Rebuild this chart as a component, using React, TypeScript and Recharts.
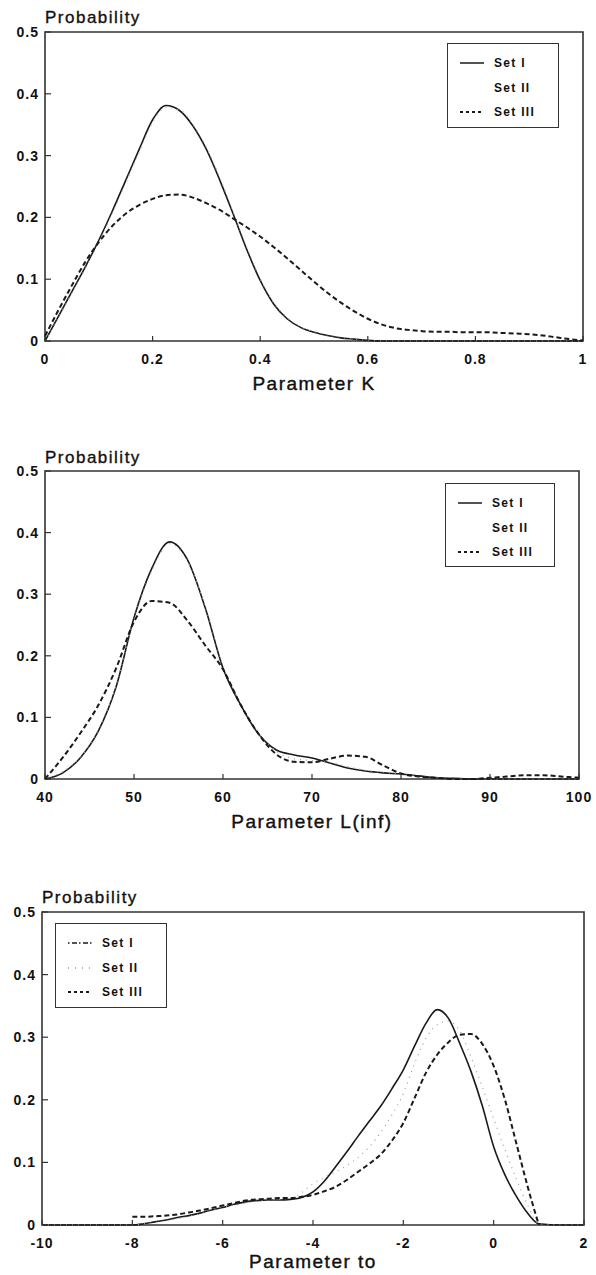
import { LineChart, Line, XAxis, YAxis, ReferenceArea, Legend } from "recharts";

const FONT = '"Liberation Sans", Arial, Helvetica, sans-serif';

const SET_NAMES = ["Set I", "Set II", "Set III"];
const PROB_TICKS = [0, 0.1, 0.2, 0.3, 0.4, 0.5];

// Parameter K
const K_TICKS = [0, 0.2, 0.4, 0.6, 0.8, 1];
const K_X = [
  0, 0.025, 0.05, 0.075, 0.1, 0.125, 0.15, 0.175, 0.2, 0.225, 0.25, 0.275, 0.3,
  0.325, 0.35, 0.375, 0.4, 0.425, 0.45, 0.475, 0.5, 0.525, 0.55, 0.575, 0.6,
  0.625, 0.65, 0.675, 0.7, 0.725, 0.75, 0.775, 0.8, 0.825, 0.85, 0.875, 0.9,
  0.925, 0.95, 0.975, 1,
];
const K_SET1 = [
  0, 0.04, 0.08, 0.12, 0.163, 0.21, 0.26, 0.31, 0.358, 0.381, 0.373, 0.348,
  0.31, 0.26, 0.205, 0.148, 0.098, 0.06, 0.036, 0.022, 0.014, 0.009, 0.005,
  0.003, 0.001, 0, 0, 0, 0, 0, 0, 0, 0, 0, 0, 0, 0, 0, 0, 0, 0,
];
const K_SET2 = [
  0, 0.038, 0.078, 0.118, 0.16, 0.206, 0.256, 0.306, 0.354, 0.378, 0.374, 0.35,
  0.313, 0.264, 0.208, 0.152, 0.101, 0.062, 0.038, 0.023, 0.015, 0.01, 0.006,
  0.003, 0.001, 0, 0, 0, 0, 0, 0, 0, 0, 0, 0, 0, 0, 0, 0, 0, 0,
];
const K_SET3 = [
  0.008, 0.05, 0.09, 0.128, 0.16, 0.186, 0.206, 0.22, 0.23, 0.236, 0.237,
  0.232, 0.223, 0.212, 0.198, 0.184, 0.169, 0.152, 0.134, 0.115, 0.096, 0.078,
  0.062, 0.048, 0.036, 0.027, 0.021, 0.018, 0.016, 0.015, 0.015, 0.014, 0.014,
  0.014, 0.013, 0.012, 0.011, 0.009, 0.006, 0.003, 0.001,
];

// Parameter L(inf)
const L_TICKS = [40, 50, 60, 70, 80, 90, 100];
const L_X = [
  40, 42, 44, 46, 48, 50, 52, 54, 56, 58, 60, 62, 64, 66, 68, 70, 72, 74, 76,
  78, 80, 82, 84, 86, 88, 90, 92, 94, 96, 98, 100,
];
const L_SET1 = [
  0, 0.01, 0.035, 0.078, 0.15, 0.262, 0.342, 0.385, 0.356, 0.278, 0.18, 0.12,
  0.073, 0.047, 0.039, 0.034, 0.026, 0.018, 0.013, 0.01, 0.008, 0.005, 0.002,
  0.001, 0, 0, 0, 0, 0, 0, 0,
];
const L_SET2 = [
  0, 0.012, 0.036, 0.08, 0.152, 0.26, 0.338, 0.382, 0.354, 0.28, 0.183, 0.122,
  0.074, 0.045, 0.033, 0.03, 0.027, 0.02, 0.014, 0.011, 0.008, 0.005, 0.003,
  0.001, 0, 0, 0, 0, 0, 0, 0,
];
const L_SET3 = [
  0, 0.035, 0.075, 0.12, 0.18, 0.255, 0.289, 0.286, 0.257, 0.217, 0.178, 0.12,
  0.073, 0.04, 0.028, 0.027, 0.033, 0.038, 0.036, 0.022, 0.009, 0.004, 0.002,
  0, 0, 0.002, 0.004, 0.006, 0.006, 0.004, 0.002,
];

// Parameter to
const T_TICKS = [-10, -8, -6, -4, -2, 0, 2];
const T_X = [
  -10, -9, -8, -7.75, -7.5, -7.25, -7, -6.75, -6.5, -6.25, -6, -5.75, -5.5,
  -5.25, -5, -4.75, -4.5, -4.25, -4, -3.75, -3.5, -3.25, -3, -2.75, -2.5,
  -2.25, -2, -1.75, -1.5, -1.25, -1, -0.75, -0.5, -0.25, 0, 0.25, 0.5, 0.75, 1,
  1.5, 2,
];
const T_SET1 = [
  0, 0, 0, 0.002, 0.005, 0.008, 0.012, 0.015, 0.019, 0.024, 0.028, 0.033,
  0.037, 0.039, 0.04, 0.04, 0.041, 0.044, 0.053, 0.07, 0.093, 0.117, 0.142,
  0.166, 0.19, 0.218, 0.248, 0.286, 0.322, 0.344, 0.33, 0.29, 0.245, 0.19,
  0.125, 0.08, 0.046, 0.019, 0.002, 0, 0,
];
const T_SET2 = [
  0, 0, 0, 0.002, 0.004, 0.007, 0.01, 0.014, 0.018, 0.023, 0.028, 0.032, 0.035,
  0.038, 0.04, 0.041, 0.043, 0.052, 0.066, 0.076, 0.085, 0.095, 0.108, 0.125,
  0.148, 0.176, 0.21, 0.258, 0.298, 0.32, 0.326, 0.31, 0.268, 0.22, 0.17, 0.12,
  0.074, 0.032, 0.002, 0, 0,
];
const T_SET3 = [
  null, null, 0.013, 0.013, 0.014, 0.015, 0.017, 0.02, 0.023, 0.027, 0.031,
  0.035, 0.039, 0.041, 0.042, 0.043, 0.043, 0.045, 0.048, 0.054, 0.061, 0.072,
  0.085, 0.098, 0.113, 0.135, 0.163, 0.203, 0.243, 0.272, 0.292, 0.304, 0.305,
  0.289, 0.254, 0.2, 0.131, 0.062, 0, null, null,
];

const LINE_STYLES = [
  { stroke: "#1a1a1a", width: 1.6, dash: undefined as string | undefined },
  { stroke: "#a0a0a0", width: 1.2, dash: "1 5" },
  { stroke: "#1a1a1a", width: 2, dash: "5 3" },
];

const makeRows = (xs: number[], s1: any[], s2: any[], s3: any[]) =>
  xs.map((x, i) => ({ x, set1: s1[i], set2: s2[i], set3: s3[i] }));

const tickText = {
  fontSize: 14,
  fontWeight: "bold",
  fontFamily: FONT,
  letterSpacing: 1,
  fill: "#111",
};

const XTick = ({ x, y, payload }: any) => (
  <g>
    <line x1={x} y1={y - 13} x2={x} y2={y - 18} stroke="#333" strokeWidth={1.2} />
    <text x={x} y={y} dy="0.71em" textAnchor="middle" {...tickText}>
      {payload.value}
    </text>
  </g>
);

const YTick = ({ x, y, payload }: any) => (
  <g>
    <line x1={x + 6} y1={y} x2={x + 12} y2={y} stroke="#333" strokeWidth={1.2} />
    <text x={x} y={y} dy="0.36em" textAnchor="end" {...tickText}>
      {payload.value}
    </text>
  </g>
);

interface Sample {
  stroke: string;
  width: number;
  dash?: string;
}

const LegendBox = ({ samples }: { samples: (Sample | null)[] }) => (
  <div
    style={{
      width: "100%",
      height: "100%",
      border: "1.5px solid #333",
      background: "#fff",
      position: "relative",
      boxSizing: "border-box",
    }}
  >
    {SET_NAMES.map((name, i) => {
      const s = samples[i];
      return (
        <div
          key={name}
          style={{
            position: "absolute",
            left: 0,
            top: 11 + i * 24.5,
            height: 16,
            display: "flex",
            alignItems: "center",
          }}
        >
          <svg width={44} height={16} style={{ display: "block" }}>
            {s && (
              <line
                x1={12}
                x2={36}
                y1={8}
                y2={8}
                stroke={s.stroke}
                strokeWidth={s.width}
                strokeDasharray={s.dash}
              />
            )}
          </svg>
          <span
            style={{
              marginLeft: 2,
              fontFamily: FONT,
              fontSize: 12,
              fontWeight: "bold",
              letterSpacing: 1.3,
              color: "#111",
            }}
          >
            {name}
          </span>
        </div>
      );
    })}
  </div>
);

interface PanelProps {
  top: number;
  height: number;
  rows: any[];
  domain: [number, number];
  ticks: number[];
  margin: { top: number; right: number; bottom: number; left: number };
  yWidth: number;
  xHeight: number;
  title: string;
  titleY: number;
  legend: { left: number; top: number; width: number; height: number };
  samples: (Sample | null)[];
}

const Panel = ({
  top,
  height,
  rows,
  domain,
  ticks,
  margin,
  yWidth,
  xHeight,
  title,
  titleY,
  legend,
  samples,
}: PanelProps) => {
  const plotLeft = margin.left + yWidth;
  const plotRight = 596 - margin.right;
  return (
    <div style={{ position: "absolute", left: 0, top, width: 596, height }}>
      <LineChart width={596} height={height} data={rows} margin={margin}>
        <XAxis
          type="number"
          dataKey="x"
          domain={domain}
          ticks={ticks}
          interval={0}
          height={xHeight}
          tickSize={0}
          tickMargin={13}
          axisLine={false}
          tickLine={false}
          tick={XTick}
          label={{
            content: () => (
              <text
                x={(plotLeft + plotRight) / 2}
                y={titleY}
                textAnchor="middle"
                fontSize={19}
                fontFamily={FONT}
                letterSpacing={1.5}
                fill="#111"
                stroke="#111"
                strokeWidth={0.4}
              >
                {title}
              </text>
            ),
          }}
        />
        <YAxis
          type="number"
          domain={[0, 0.5]}
          ticks={PROB_TICKS}
          interval={0}
          width={yWidth}
          tickSize={0}
          tickMargin={6}
          axisLine={false}
          tickLine={false}
          tick={YTick}
          label={{
            content: () => (
              <text
                x={plotLeft}
                y={23}
                fontSize={17}
                fontFamily={FONT}
                letterSpacing={1.5}
                fill="#111"
                stroke="#111"
                strokeWidth={0.35}
              >
                Probability
              </text>
            ),
          }}
        />
        <ReferenceArea
          x1={domain[0]}
          x2={domain[1]}
          y1={0}
          y2={0.5}
          fill="none"
          stroke="#333"
          strokeWidth={1.6}
        />
        {["set1", "set2", "set3"].map((key, i) => (
          <Line
            key={key}
            dataKey={key}
            type="monotone"
            dot={false}
            activeDot={false}
            isAnimationActive={false}
            stroke={LINE_STYLES[i].stroke}
            strokeWidth={LINE_STYLES[i].width}
            strokeDasharray={LINE_STYLES[i].dash}
          />
        ))}
        <Legend
          layout="horizontal"
          align="center"
          verticalAlign="middle"
          wrapperStyle={legend}
          content={() => <LegendBox samples={samples} />}
        />
      </LineChart>
    </div>
  );
};

const PLAIN_SAMPLES: (Sample | null)[] = [
  { stroke: "#1a1a1a", width: 1.5 },
  null,
  { stroke: "#1a1a1a", width: 1.8, dash: "3 3" },
];

const TO_SAMPLES: (Sample | null)[] = [
  { stroke: "#1a1a1a", width: 1.5, dash: "1.5 2.5 5 2" },
  { stroke: "#9a9a9a", width: 1.5, dash: "1 6" },
  { stroke: "#1a1a1a", width: 1.8, dash: "3 3" },
];

export default function App() {
  return (
    <div
      style={{
        position: "absolute",
        left: 0,
        top: 0,
        width: 596,
        height: 1275,
        background: "#fff",
      }}
    >
      <Panel
        top={0}
        height={400}
        rows={makeRows(K_X, K_SET1, K_SET2, K_SET3)}
        domain={[0, 1]}
        ticks={K_TICKS}
        margin={{ top: 32, right: 13, bottom: 0, left: 0 }}
        yWidth={45}
        xHeight={59}
        title="Parameter K"
        titleY={390}
        legend={{ left: 447, top: 43, width: 112, height: 85 }}
        samples={PLAIN_SAMPLES}
      />
      <Panel
        top={440}
        height={400}
        rows={makeRows(L_X, L_SET1, L_SET2, L_SET3)}
        domain={[40, 100]}
        ticks={L_TICKS}
        margin={{ top: 31, right: 17, bottom: 0, left: 0 }}
        yWidth={45}
        xHeight={61}
        title="Parameter L(inf)"
        titleY={388}
        legend={{ left: 445, top: 43, width: 110, height: 84 }}
        samples={PLAIN_SAMPLES}
      />
      <Panel
        top={880}
        height={395}
        rows={makeRows(T_X, T_SET1, T_SET2, T_SET3)}
        domain={[-10, 2]}
        ticks={T_TICKS}
        margin={{ top: 32, right: 12, bottom: 0, left: 0 }}
        yWidth={42}
        xHeight={50}
        title="Parameter to"
        titleY={388}
        legend={{ left: 55, top: 43, width: 112, height: 85 }}
        samples={TO_SAMPLES}
      />
    </div>
  );
}
